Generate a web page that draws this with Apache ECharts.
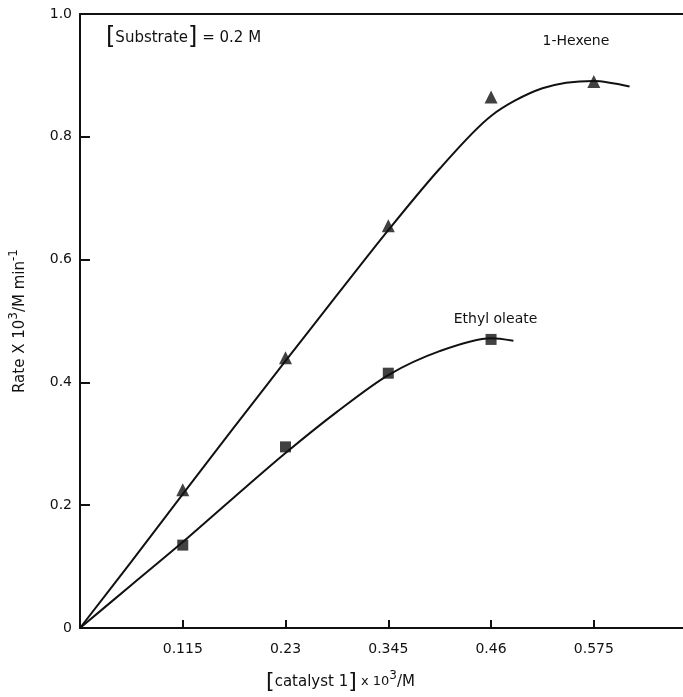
<!DOCTYPE html>
<html>
<head>
<meta charset="utf-8">
<script src="https://cdn.jsdelivr.net/npm/echarts@6/dist/echarts.min.js"></script>
<style>
  html, body { margin: 0; padding: 0; background: #fff; }
  #chart { width: 683px; height: 697px; }
</style>
</head>
<body>
<div id="chart"></div>
<script>
// tick labels
const xTickLabels = ['', '0.115', '0.23', '0.345', '0.46', '0.575'];
const yTickLabels = ['0', '0.2', '0.4', '0.6', '0.8', '1.0'];

// measured points
const hexeneCatalyst = [0.115, 0.23, 0.345, 0.46, 0.575];
const hexeneRate = [0.225, 0.44, 0.655, 0.865, 0.89];
const oleateCatalyst = [0.115, 0.23, 0.345, 0.46];
const oleateRate = [0.135, 0.295, 0.415, 0.47];

// hand-drawn fit curves
const hexeneCurveX = [0, 0.0575, 0.115, 0.1725, 0.23, 0.2875, 0.345, 0.4025, 0.46, 0.5175, 0.575, 0.615];
const hexeneCurveY = [0, 0.108, 0.218, 0.327, 0.435, 0.542, 0.648, 0.748, 0.834, 0.879, 0.891, 0.882];
const oleateCurveX = [0, 0.0575, 0.115, 0.1725, 0.23, 0.2875, 0.345, 0.4025, 0.46, 0.485];
const oleateCurveY = [0, 0.07, 0.14, 0.213, 0.285, 0.352, 0.412, 0.451, 0.472, 0.468];

const zip = (xs, ys) => xs.map((x, i) => [x, ys[i]]);
const STEP = 0.115;
const X_MAX = 0.686;
const font = 'DejaVu Sans';
const ink = '#111';

const chart = echarts.init(document.getElementById('chart'));

chart.setOption({
  backgroundColor: '#fff',
  animation: false,
  textStyle: { fontFamily: font, color: ink },
  grid: { left: 80, right: -10, top: 14, bottom: 69, containLabel: false, outerBoundsMode: 'none' },
  xAxis: [
    {
      type: 'value',
      min: 0,
      max: X_MAX,
      interval: STEP,
      splitLine: { show: false },
      axisLine: { lineStyle: { color: ink, width: 2 } },
      axisTick: { inside: true, length: 8, lineStyle: { color: ink, width: 2 } },
      axisLabel: {
        margin: 14,
        fontSize: 14,
        color: ink,
        formatter: (v) => xTickLabels[Math.round(v / STEP)] || ''
      },
      name: '{b|[}{t|catalyst 1}{b|]}{s| x 10}{sup|3}{t|/M}',
      nameLocation: 'middle',
      nameGap: 42,
      nameTextStyle: {
        padding: [0, 92, 0, 0],
        rich: {
          t: { fontSize: 15, color: ink, fontFamily: font },
          s: { fontSize: 13, color: ink, fontFamily: font },
          b: { fontSize: 22, color: ink, fontFamily: font },
          sup: { fontSize: 12, color: ink, fontFamily: font, verticalAlign: 'top', padding: [0, 0, 12, 0] }
        }
      }
    },
    {
      type: 'value',
      position: 'top',
      min: 0,
      max: X_MAX,
      axisLine: { show: true, lineStyle: { color: ink, width: 2 } },
      axisTick: { show: false },
      axisLabel: { show: false },
      splitLine: { show: false }
    }
  ],
  yAxis: {
    type: 'value',
    min: 0,
    max: 1,
    interval: 0.2,
    splitLine: { show: false },
    axisLine: { lineStyle: { color: ink, width: 2 } },
    axisTick: { inside: true, length: 10, lineStyle: { color: ink, width: 2 } },
    axisLabel: {
      margin: 8,
      fontSize: 14,
      color: ink,
      formatter: (v) => yTickLabels[Math.round(v / 0.2)]
    },
    name: '{t|Rate X 10}{sup|3}{t|/M min}{sup|-1}',
    nameLocation: 'middle',
    nameRotate: 90,
    nameGap: 48,
    nameTextStyle: {
      rich: {
        t: { fontSize: 15, color: ink, fontFamily: font },
        sup: { fontSize: 12, color: ink, fontFamily: font, verticalAlign: 'top', padding: [0, 0, 12, 0] }
      }
    }
  },
  graphic: [
    {
      type: 'text',
      left: 106,
      top: 26,
      style: {
        text: '{b|[}{t|Substrate}{b|]}{t| = 0.2 M}',
        rich: {
          t: { fontSize: 15, fill: ink, fontFamily: font },
          b: { fontSize: 24, fill: ink, fontFamily: font }
        }
      }
    }
  ],
  series: [
    {
      name: '1-Hexene curve',
      type: 'line',
      data: zip(hexeneCurveX, hexeneCurveY),
      smooth: 0.3,
      symbol: 'none',
      lineStyle: { color: ink, width: 2 },
      markPoint: {
        symbol: 'circle',
        symbolSize: 1,
        itemStyle: { color: 'rgba(0,0,0,0)' },
        label: { show: true, position: 'inside', formatter: '1-Hexene', fontSize: 14, color: ink, fontFamily: font },
        data: [{ coord: [0.555, 0.955] }]
      }
    },
    {
      name: 'Ethyl oleate curve',
      type: 'line',
      data: zip(oleateCurveX, oleateCurveY),
      smooth: 0.3,
      symbol: 'none',
      lineStyle: { color: ink, width: 2 },
      markPoint: {
        symbol: 'circle',
        symbolSize: 1,
        itemStyle: { color: 'rgba(0,0,0,0)' },
        label: { show: true, position: 'inside', formatter: 'Ethyl oleate', fontSize: 14, color: ink, fontFamily: font },
        data: [{ coord: [0.465, 0.502] }]
      }
    },
    {
      name: '1-Hexene',
      type: 'scatter',
      data: zip(hexeneCatalyst, hexeneRate),
      symbol: 'triangle',
      symbolSize: 13,
      itemStyle: { color: ink }
    },
    {
      name: 'Ethyl oleate',
      type: 'scatter',
      data: zip(oleateCatalyst, oleateRate),
      symbol: 'rect',
      symbolSize: 11,
      itemStyle: { color: ink }
    }
  ]
});
</script>
</body>
</html>
